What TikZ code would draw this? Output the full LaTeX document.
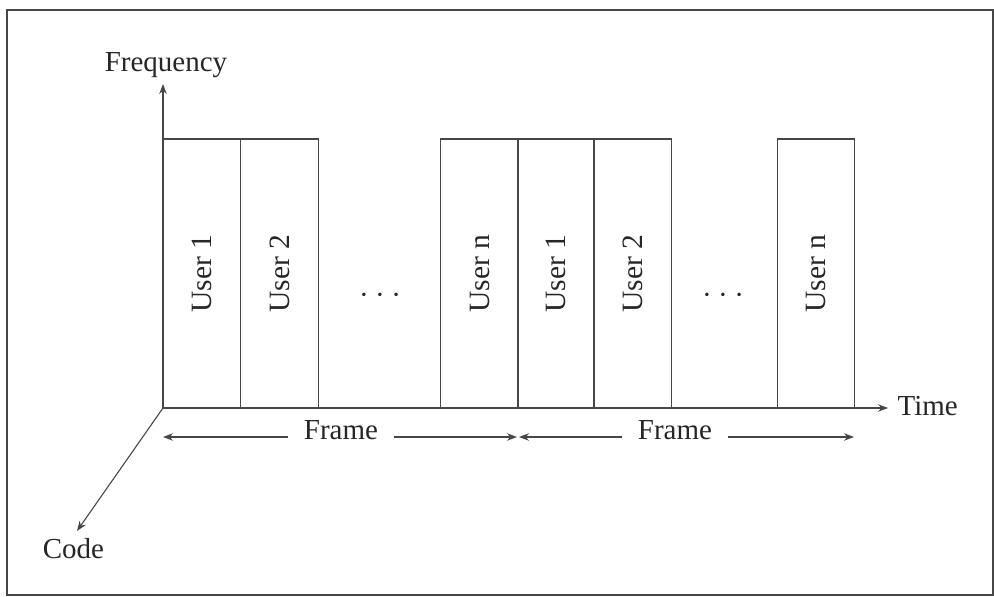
\documentclass[tikz,border=0pt]{standalone}
\usepackage{fontspec}
\setmainfont{Liberation Serif}
\usetikzlibrary{arrows.meta}
\newcommand{\mydots}{\char"00B7\kern6.5pt\char"00B7\kern6.5pt\char"00B7}
\begin{document}
\begin{tikzpicture}[x=1pt,y=-1pt,
  line width=1.1pt,
  lc/.style={draw=black!72},
  tx/.style={text=black!85,font=\fontsize{29}{34}\selectfont,inner sep=0pt},
  slot/.style={lc,rotate=90,minimum width=269pt,minimum height=77.5pt,inner sep=0pt,text=black!85,font=\fontsize{29.5}{34}\selectfont},
  arr/.style={lc,-{Stealth[length=10pt,width=7.5pt]}},
  framelbl/.style={tx,anchor=mid,inner xsep=15pt}]
\useasboundingbox (0,0) rectangle (994,597);
\draw[lc,line width=1.3pt] (7,10) rectangle (993,595);
% axes
\coordinate (O) at (163,408);
\coordinate (ftip) at (163,84);
\coordinate (ttip) at (888,408);
\coordinate (ctip) at (77,531);
% slots
\node[slot] (a1) at (202,273.5) {User 1};
\node[slot] (a2) at (279.5,273.5) {User 2};
\node[slot] (an) at (479.5,273.5) {User n};
\node[slot] (b1) at (556,273.5) {User 1};
\node[slot] (b2) at (632.5,273.5) {User 2};
\node[slot] (bn) at (816,273.5) {User n};
\node[tx,anchor=base] (d1) at (380,304) {\mydots};
\node[tx,anchor=base] (d2) at (723,304) {\mydots};
\draw[arr] (O) -- (ftip);
\draw[arr] (O) -- (ttip);
\draw[arr] (O) -- (ctip);
\node[tx,anchor=base] (flab) at (166,71) {Frequency};
\node[tx,anchor=base west] (tlab) at (897,415) {Time};
\node[tx,anchor=base] (clab) at (73.5,558) {Code};
% frame arrows
\coordinate (f1l) at (163,437);
\coordinate (f1r) at (517,437);
\coordinate (f2l) at (519,437);
\coordinate (f2r) at (854,437);
\node[framelbl] (fr1) at (341,437) {Frame};
\node[framelbl] (fr2) at (675,437) {Frame};
\draw[arr] (fr1.west|-f1l) -- (f1l);
\draw[arr] (fr1.east|-f1r) -- (f1r);
\draw[arr] (fr2.west|-f2l) -- (f2l);
\draw[arr] (fr2.east|-f2r) -- (f2r);
\end{tikzpicture}
\end{document}
